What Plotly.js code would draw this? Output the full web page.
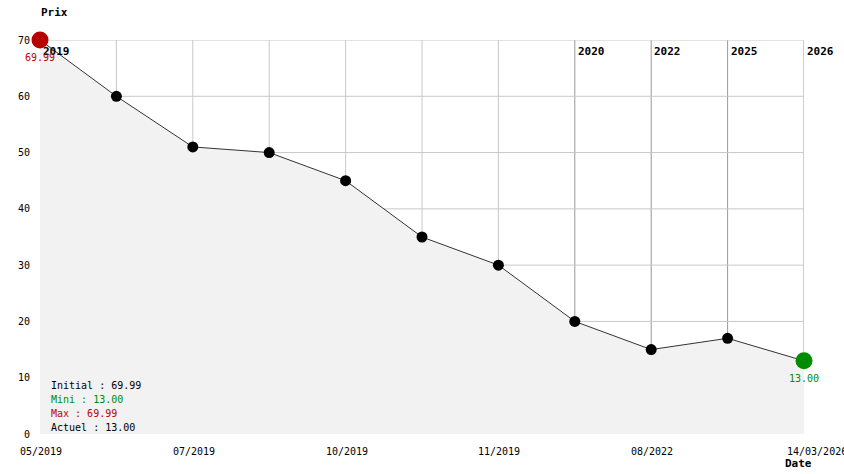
<!DOCTYPE html>
<html>
<head>
<meta charset="utf-8">
<script src="https://cdn.plot.ly/plotly-3.0.1.min.js"></script>
<style>html,body{margin:0;padding:0;background:#fff;}#chart{width:844px;height:474px;}</style>
</head>
<body>
<div id="chart"></div>
<script>
// Data
const pointIndex = [0, 1, 2, 3, 4, 5, 6, 7, 8, 9, 10];
const prices = [69.99, 60, 51, 50, 45, 35, 30, 20, 15, 17, 13];
const tickPositions = [0, 2, 4, 6, 8, 10];
const tickLabels = ['05/2019', '07/2019', '10/2019', '11/2019', '08/2022', '14/03/2026'];
const yearPositions = [0, 7, 8, 9, 10];
const yearLabels = ['2019', '2020', '2022', '2025', '2026'];
const yTicks = [0, 10, 20, 30, 40, 50, 60, 70];
const summaryLabels = ['Initial : 69.99', 'Mini : 13.00', 'Max : 69.99', 'Actuel : 13.00'];
const summaryColors = ['#000000', '#008c00', '#c00000', '#000000'];

const FONT = '"DejaVu Sans Mono", "Liberation Mono", monospace';
const RED = '#b80000';
const GREEN = '#008c00';

const n = prices.length;
const markerSizes = prices.map((v, i) => (i === 0 || i === n - 1) ? 17 : 11);
const markerColors = prices.map((v, i) => i === 0 ? RED : (i === n - 1 ? GREEN : '#000000'));

const trace = {
  x: pointIndex,
  y: prices,
  type: 'scatter',
  mode: 'lines+markers',
  fill: 'tozeroy',
  fillcolor: '#f2f2f2',
  line: {color: '#333333', width: 1},
  marker: {size: markerSizes, color: markerColors, opacity: 1, line: {width: 0}},
  cliponaxis: false,
  hoverinfo: 'skip'
};

const shapes = [];
// vertical grid lines at every point
pointIndex.forEach(i => {
  const dark = yearPositions.includes(i) && i !== 0;
  shapes.push({type: 'line', xref: 'x', yref: 'y', x0: i, x1: i, y0: 0, y1: 70,
    line: {color: dark ? '#999999' : '#c8c8c8', width: 1}, layer: 'below'});
});
// horizontal grid lines
yTicks.forEach(v => {
  shapes.push({type: 'line', xref: 'x', yref: 'y', x0: 0, x1: 10, y0: v, y1: v,
    line: {color: '#c8c8c8', width: 1}, layer: 'below'});
});

const annotations = [];
// year labels
yearPositions.forEach((p, i) => {
  annotations.push({x: p, y: 70, xref: 'x', yref: 'y', text: '<b>' + yearLabels[i] + '</b>',
    showarrow: false, xanchor: 'left', yanchor: 'top', xshift: 1, yshift: -3,
    font: {family: FONT, size: 11, color: '#000'}});
});
// x tick labels
tickPositions.forEach((p, i) => {
  const last = i === tickPositions.length - 1;
  annotations.push({x: p, y: 0, xref: 'x', yref: 'y', text: tickLabels[i],
    showarrow: false, xanchor: last ? 'left' : 'center', xshift: last ? -19 : 1, yanchor: 'top', yshift: -10,
    font: {family: FONT, size: 10, color: '#000'}});
});
// first / last value labels
annotations.push({x: 0, y: prices[0], xref: 'x', yref: 'y', text: prices[0].toFixed(2),
  showarrow: false, xanchor: 'center', yanchor: 'top', yshift: -10,
  font: {family: FONT, size: 10, color: '#c00000'}});
annotations.push({x: n - 1, y: prices[n - 1], xref: 'x', yref: 'y', text: prices[n - 1].toFixed(2),
  showarrow: false, xanchor: 'center', yanchor: 'top', yshift: -10,
  font: {family: FONT, size: 10, color: GREEN}});
// summary
summaryLabels.forEach((t, i) => {
  annotations.push({x: 49, y: 385 + i * 14, xref: 'paper', yref: 'paper', text: t,
    showarrow: false, xanchor: 'left', yanchor: 'middle',
    font: {family: FONT, size: 10, color: summaryColors[i]}});
});
// axis names
annotations.push({x: 39, y: 12, xref: 'paper', yref: 'paper', text: '<b>Prix</b>', showarrow: false, xanchor: 'left', yanchor: 'middle',
  font: {family: FONT, size: 11, color: '#000'}});
annotations.push({x: 783, y: 463, xref: 'paper', yref: 'paper', text: '<b>Date</b>', showarrow: false, xanchor: 'left', yanchor: 'middle',
  font: {family: FONT, size: 11, color: '#000'}});

// convert pixel-positioned paper annotations
const W = 844, H = 474, mL = 40, mR = 40, mT = 40, mB = 40;
annotations.forEach(a => {
  if (a.xref === 'paper' && a.yref === 'paper') {
    a.x = (a.x - mL) / (W - mL - mR);
    a.y = 1 - (a.y - mT) / (H - mT - mB);
  }
});

const layout = {
  width: W, height: H,
  margin: {l: mL, r: mR, t: mT, b: mB, pad: 0},
  paper_bgcolor: '#ffffff', plot_bgcolor: '#ffffff',
  showlegend: false,
  xaxis: {range: [0, 10], showgrid: false, zeroline: false, showline: false,
    showticklabels: false, ticks: '', fixedrange: true},
  yaxis: {range: [0, 70], tickvals: yTicks, ticktext: yTicks.map(String), showgrid: false,
    zeroline: false, showline: false, ticks: '', ticklabelstandoff: 9,
    tickfont: {family: FONT, size: 10, color: '#000'}, fixedrange: true},
  shapes: shapes,
  annotations: annotations
};

Plotly.newPlot('chart', [trace], layout, {staticPlot: true, displayModeBar: false});
</script>
</body>
</html>
